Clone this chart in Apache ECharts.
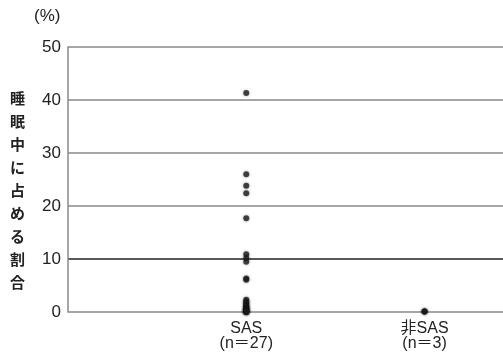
<!DOCTYPE html>
<html>
<head>
<meta charset="utf-8">
<script src="https://cdn.jsdelivr.net/npm/echarts@6/dist/echarts.min.js"></script>
<style>html,body{margin:0;padding:0;background:#fff;}#c{width:503px;height:358px;}</style>
</head>
<body>
<div id="c"></div>
<script>
const categories = ['SAS', '非SAS'];
const categoryLabels = ['SAS\n(n＝27)', '非SAS\n(n＝3)'];
const sasValues = [41.3, 26.0, 23.8, 22.4, 17.7, 10.9, 10.2, 9.5, 6.3, 6.1, 2.3, 2.0, 1.7, 1.5, 1.2, 1.0, 0.8, 0.7, 0.5, 0.4, 0.3, 0.2, 0.1, 0.1, 0, 0, 0];
const nonSasValues = [0.1, 0.1, 0.1];
const yTicks = [0, 10, 20, 30, 40, 50];
const yTitle = '睡眠中に占める割合';
const yUnit = '(%)';

const chart = echarts.init(document.getElementById('c'));
const font = '"Liberation Sans", Arial, sans-serif';
const mixedFont = '"Liberation Sans", "Noto Sans CJK JP", sans-serif';
const toPoints = (idx, arr) => arr.map(v => [idx + 1, v]);
const dotStyle = { color: '#1c1c1c', shadowColor: 'rgba(0,0,0,0.4)', shadowBlur: 3 };

chart.setOption({
  animation: false,
  grid: { left: 68, right: 0, top: 47, bottom: 46 },
  xAxis: {
    type: 'value', min: 0, max: 2.44, interval: 1,
    axisLine: { show: false }, axisTick: { show: false }, splitLine: { show: false },
    axisLabel: {
      showMaxLabel: false,
      formatter: v => (v >= 1 && v <= categories.length && Number.isInteger(v)) ? categoryLabels[v - 1] : '',
      color: '#222', fontSize: 16, lineHeight: 15, margin: 9,
      fontFamily: mixedFont
    }
  },
  yAxis: {
    type: 'value', min: yTicks[0], max: yTicks[yTicks.length - 1], interval: 10,
    axisLine: { show: true, lineStyle: { color: '#888', width: 1.5 } },
    axisTick: { show: false },
    axisLabel: { color: '#222', fontSize: 17, margin: 7, fontFamily: font },
    splitLine: { show: true, lineStyle: { color: ['#888', '#222', '#888', '#888', '#888', '#888'], width: 1.5 } }
  },
  graphic: [
    { type: 'text', left: 34, top: 8, style: { text: yUnit, fontSize: 17, fill: '#222', fontFamily: font } },
    { type: 'text', left: 10, top: 87, style: { text: yTitle.split('').join('\n'), fontSize: 15, lineHeight: 23, fill: '#222', fontFamily: '"Noto Sans CJK JP", sans-serif', fontWeight: 'bold' } }
  ],
  series: [
    { type: 'scatter', data: toPoints(0, sasValues), symbolSize: 6, itemStyle: dotStyle },
    { type: 'scatter', data: toPoints(1, nonSasValues), symbolSize: 6, itemStyle: dotStyle }
  ]
});
</script>
</body>
</html>
